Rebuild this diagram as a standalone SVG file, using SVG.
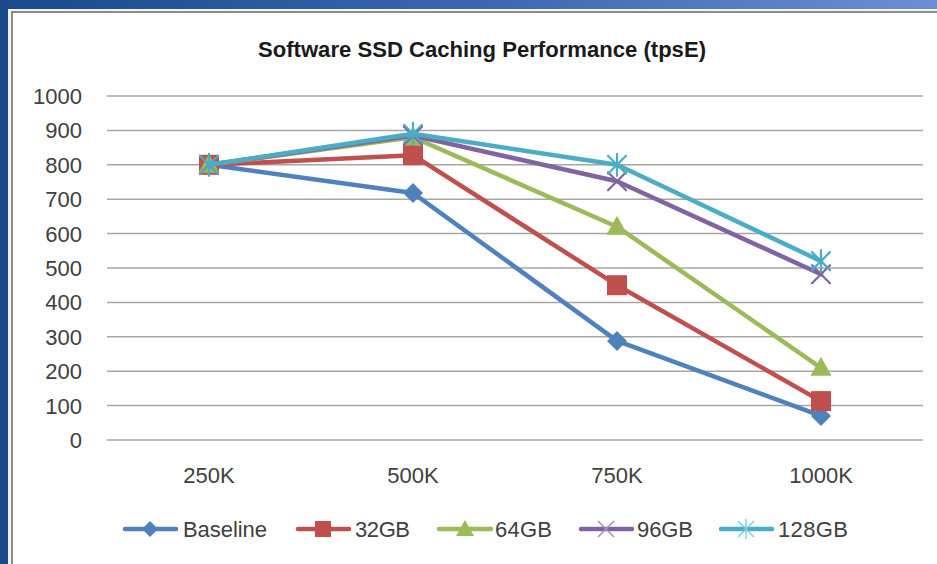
<svg xmlns="http://www.w3.org/2000/svg" xmlns:xlink="http://www.w3.org/1999/xlink" width="937" height="564" viewBox="0 0 937 564">
  <style>
    .grid { stroke: #a6a6a6; stroke-width: 1.5; }
    .ylab { font-family: "Liberation Sans", Arial, sans-serif; font-size: 22px; fill: #404040; text-anchor: end; }
    .xlab { font-family: "Liberation Sans", Arial, sans-serif; font-size: 22px; fill: #404040; text-anchor: middle; }
    .leg { font-family: "Liberation Sans", Arial, sans-serif; font-size: 22px; fill: #404040; }
    .title { font-family: "Liberation Sans", Arial, sans-serif; font-size: 22px; font-weight: bold; fill: #1a1a1a; }
    .ser { fill: none; stroke-width: 4.5; stroke-linejoin: round; stroke-linecap: round; }
    .s-base { stroke: #4f81bd; }
    .s-32 { stroke: #c0504d; }
    .s-64 { stroke: #9bbb59; }
    .s-96 { stroke: #8064a2; }
    .s-128 { stroke: #4bacc6; }
  </style>
  <defs>
    <linearGradient id="frameTop" x1="0" y1="0" x2="1" y2="0">
      <stop offset="0" stop-color="#184a8c"/>
      <stop offset="0.5" stop-color="#3a66ad"/>
      <stop offset="1" stop-color="#6c8fd2"/>
    </linearGradient>
    <!-- series markers -->
    <path id="mDiamond" d="M0,-10 L10,0 L0,10 L-10,0 Z" fill="#4f81bd"/>
    <rect id="mSquare" x="-10" y="-10" width="20" height="20" fill="#c0504d"/>
    <path id="mTriangle" d="M0,-11 L10.5,8 L-10.5,8 Z" fill="#9bbb59"/>
    <g id="mCross" stroke="#8064a2" stroke-width="2.2" stroke-linecap="round">
      <line x1="-9" y1="-9" x2="9" y2="9"/>
      <line x1="-9" y1="9" x2="9" y2="-9"/>
    </g>
    <g id="mStar" stroke="#4bacc6" stroke-width="2.2" stroke-linecap="round">
      <line x1="-9" y1="-9" x2="9" y2="9"/>
      <line x1="-9" y1="9" x2="9" y2="-9"/>
      <line x1="0" y1="-11" x2="0" y2="11"/>
    </g>
    <!-- smaller legend markers -->
    <path id="lDiamond" d="M0,-8 L8,0 L0,8 L-8,0 Z" fill="#4f81bd"/>
    <rect id="lSquare" x="-8" y="-8" width="16" height="16" fill="#c0504d"/>
    <path id="lTriangle" d="M0,-9 L9,7 L-9,7 Z" fill="#9bbb59"/>
    <g id="lCross" stroke="#a08cc0" stroke-width="1.4">
      <line x1="-8" y1="-8" x2="8" y2="8"/>
      <line x1="-8" y1="8" x2="8" y2="-8"/>
    </g>
    <g id="lStar" stroke="#7fcbe0" stroke-width="1.4">
      <line x1="-8" y1="-8" x2="8" y2="8"/>
      <line x1="-8" y1="8" x2="8" y2="-8"/>
      <line x1="0" y1="-10" x2="0" y2="10"/>
    </g>
  </defs>

  <!-- slide frame -->
  <rect x="0" y="0" width="937" height="564" fill="#184a8c"/>
  <rect x="0" y="0" width="937" height="9" fill="url(#frameTop)"/>
  <rect x="8" y="9" width="929" height="555" fill="#f4f4f4"/>
  <rect x="12" y="12" width="930" height="560" fill="#ffffff" stroke="#8c8c8c" stroke-width="2"/>

  <!-- title -->
  <text class="title" x="258" y="57" textLength="448" lengthAdjust="spacingAndGlyphs">Software SSD Caching Performance (tpsE)</text>

  <!-- gridlines -->
  <g id="gridlines">
    <line class="grid" x1="107" y1="96" x2="923" y2="96"/>
    <line class="grid" x1="107" y1="130.4" x2="923" y2="130.4"/>
    <line class="grid" x1="107" y1="164.8" x2="923" y2="164.8"/>
    <line class="grid" x1="107" y1="199.2" x2="923" y2="199.2"/>
    <line class="grid" x1="107" y1="233.6" x2="923" y2="233.6"/>
    <line class="grid" x1="107" y1="268" x2="923" y2="268"/>
    <line class="grid" x1="107" y1="302.4" x2="923" y2="302.4"/>
    <line class="grid" x1="107" y1="336.8" x2="923" y2="336.8"/>
    <line class="grid" x1="107" y1="371.2" x2="923" y2="371.2"/>
    <line class="grid" x1="107" y1="405.6" x2="923" y2="405.6"/>
    <line class="grid" x1="107" y1="440" x2="923" y2="440"/>
  </g>

  <!-- value axis labels -->
  <g id="y-axis">
    <text class="ylab" x="82" y="104">1000</text>
    <text class="ylab" x="82" y="138.4">900</text>
    <text class="ylab" x="82" y="172.8">800</text>
    <text class="ylab" x="82" y="207.2">700</text>
    <text class="ylab" x="82" y="241.6">600</text>
    <text class="ylab" x="82" y="276">500</text>
    <text class="ylab" x="82" y="310.4">400</text>
    <text class="ylab" x="82" y="344.8">300</text>
    <text class="ylab" x="82" y="379.2">200</text>
    <text class="ylab" x="82" y="413.6">100</text>
    <text class="ylab" x="82" y="448">0</text>
  </g>

  <!-- category axis labels -->
  <g id="x-axis">
    <text class="xlab" x="209" y="483">250K</text>
    <text class="xlab" x="413" y="483">500K</text>
    <text class="xlab" x="617" y="483">750K</text>
    <text class="xlab" x="821" y="483">1000K</text>
  </g>

  <!-- data series -->
  <g id="connectors">
    <g id="series-baseline">
      <polyline class="ser s-base" points="209,164.8 413,193 617,340.9 821,415.9"/>
      <use xlink:href="#mDiamond" x="209" y="164.8"/>
      <use xlink:href="#mDiamond" x="413" y="193"/>
      <use xlink:href="#mDiamond" x="617" y="340.9"/>
      <use xlink:href="#mDiamond" x="821" y="415.9"/>
    </g>
    <g id="series-32gb">
      <polyline class="ser s-32" points="209,164.8 413,155.2 617,285.2 821,401.1"/>
      <use xlink:href="#mSquare" x="209" y="164.8"/>
      <use xlink:href="#mSquare" x="413" y="155.2"/>
      <use xlink:href="#mSquare" x="617" y="285.2"/>
      <use xlink:href="#mSquare" x="821" y="401.1"/>
    </g>
    <g id="series-64gb">
      <polyline class="ser s-64" points="209,164.8 413,137.3 617,226.7 821,367.8"/>
      <use xlink:href="#mTriangle" x="209" y="164.8"/>
      <use xlink:href="#mTriangle" x="413" y="137.3"/>
      <use xlink:href="#mTriangle" x="617" y="226.7"/>
      <use xlink:href="#mTriangle" x="821" y="367.8"/>
    </g>
    <g id="series-96gb">
      <polyline class="ser s-96" points="209,164.8 413,135.6 617,181.3 821,274.2"/>
      <use xlink:href="#mCross" x="209" y="164.8"/>
      <use xlink:href="#mCross" x="413" y="135.6"/>
      <use xlink:href="#mCross" x="617" y="181.3"/>
      <use xlink:href="#mCross" x="821" y="274.2"/>
    </g>
    <g id="series-128gb">
      <polyline class="ser s-128" points="209,164.8 413,133.8 617,164.8 821,261.1"/>
      <use xlink:href="#mStar" x="209" y="164.8"/>
      <use xlink:href="#mStar" x="413" y="133.8"/>
      <use xlink:href="#mStar" x="617" y="164.8"/>
      <use xlink:href="#mStar" x="821" y="261.1"/>
    </g>
  </g>

  <!-- legend -->
  <g id="legend">
    <g id="legend-baseline">
      <line class="ser s-base" x1="125" y1="529" x2="176" y2="529"/>
      <use xlink:href="#lDiamond" x="150" y="529"/>
      <text class="leg" x="183" y="537" textLength="84">Baseline</text>
    </g>
    <g id="legend-32gb">
      <line class="ser s-32" x1="298" y1="529" x2="349" y2="529"/>
      <use xlink:href="#lSquare" x="323" y="529"/>
      <text class="leg" x="355" y="537" textLength="55">32GB</text>
    </g>
    <g id="legend-64gb">
      <line class="ser s-64" x1="439" y1="529" x2="491" y2="529"/>
      <use xlink:href="#lTriangle" x="465" y="529"/>
      <text class="leg" x="495" y="537" textLength="57">64GB</text>
    </g>
    <g id="legend-96gb">
      <line class="ser s-96" x1="581" y1="529" x2="632" y2="529"/>
      <use xlink:href="#lCross" x="606" y="529"/>
      <text class="leg" x="637" y="537" textLength="56">96GB</text>
    </g>
    <g id="legend-128gb">
      <line class="ser s-128" x1="721" y1="529" x2="772" y2="529"/>
      <use xlink:href="#lStar" x="746" y="529"/>
      <text class="leg" x="778" y="537" textLength="70">128GB</text>
    </g>
  </g>
</svg>
